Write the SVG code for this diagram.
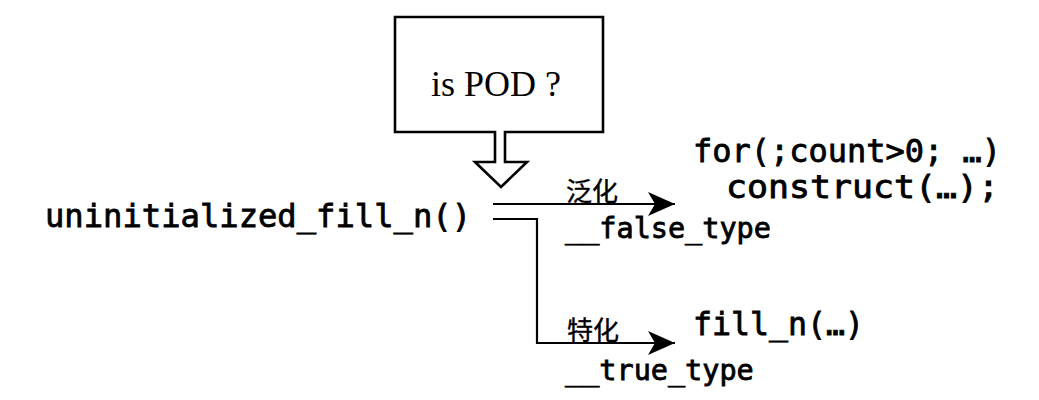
<svg xmlns="http://www.w3.org/2000/svg" width="1039" height="400" viewBox="0 0 1039 400">
  <style>
    .mono { font-family: "DejaVu Sans Mono", "Liberation Mono", monospace; font-weight: normal; fill: #000; stroke: #000; stroke-width: 0.8; }
    .cjk { font-family: "Noto Sans CJK SC", "Noto Sans", sans-serif; fill: #000; stroke: #000; stroke-width: 0.4; }
    .serif { font-family: "Liberation Serif", "Times New Roman", serif; fill: #000; }
    .line { fill: none; stroke: #000; stroke-width: 2.2; }
  </style>
  <defs>
    <marker id="arrow" markerUnits="userSpaceOnUse" markerWidth="30" markerHeight="26" refX="27" refY="12" orient="auto">
      <path d="M0,0 L27,12 L0,24 L7,12 Z" fill="#000"/>
    </marker>
  </defs>
  <rect width="1039" height="400" fill="#fff"/>

  <g id="pod-check">
    <path d="M495,132 L395,132 L395,17 L603,17 L603,132 L505,132 L505,162 L527,162 L501,187 L475,162 L495,162 Z" fill="#fff" stroke="#000" stroke-width="2.6" stroke-linejoin="miter"/>
    <text class="serif" x="496" y="96" font-size="36" text-anchor="middle">is POD ?</text>
  </g>

  <g id="uninitialized-fill-n">
    <text class="mono" x="45" y="227" font-size="32" textLength="426" lengthAdjust="spacingAndGlyphs">uninitialized_fill_n()</text>
  </g>

  <g id="generic-branch">
    <text class="mono" x="693" y="162" font-size="32" textLength="308" lengthAdjust="spacingAndGlyphs">for(;count&gt;0; …)</text>
    <text class="mono" x="726" y="198" font-size="32" textLength="273" lengthAdjust="spacingAndGlyphs">construct(…);</text>
  </g>

  <g id="specialized-branch">
    <text class="mono" x="693" y="335" font-size="32" textLength="171" lengthAdjust="spacingAndGlyphs">fill_n(…)</text>
  </g>

  <g id="connectors">
    <path class="line" d="M493,204 L675,204" marker-end="url(#arrow)"/>
    <path class="line" d="M493,219 L537,219 L537,343 L675,343" marker-end="url(#arrow)"/>
    <text class="cjk" x="566" y="201" font-size="26">泛化</text>
    <text class="mono" x="565" y="238" font-size="28.5">__false_type</text>
    <text class="cjk" x="567" y="340" font-size="26">特化</text>
    <text class="mono" x="565" y="380" font-size="28.5">__true_type</text>
  </g>
</svg>
